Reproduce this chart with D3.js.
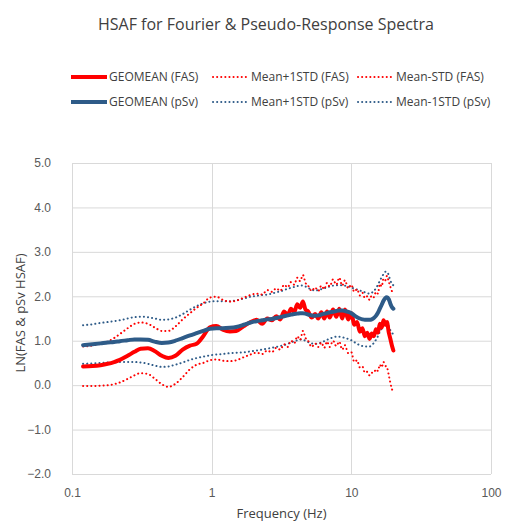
<!DOCTYPE html>
<html>
<head>
<meta charset="utf-8">
<script src="https://cdn.jsdelivr.net/npm/d3@7"></script>
<style>
  body { margin: 0; background: #fff; }
  svg { font-family: "Open Sans", "Liberation Sans", sans-serif; }
</style>
</head>
<body>
<div id="chart"></div>
<script>
// =========================
// DATA
// =========================
const freq = [0.12, 0.14, 0.16, 0.18, 0.2, 0.22, 0.25, 0.28, 0.31, 0.35, 0.39, 0.44, 0.49, 0.55, 0.62, 0.7, 0.78, 0.87, 0.97, 1.08,
  1.2, 1.35, 1.5, 1.7, 1.9, 2.1, 2.3, 2.5, 2.7, 2.9, 3.1, 3.3, 3.5, 3.7, 3.9, 4.1, 4.3, 4.5, 4.7, 4.9,
  5.2, 5.5, 5.8, 6.1, 6.4, 6.7, 7.0, 7.4, 7.8, 8.2, 8.6, 9.0, 9.5, 10.0, 10.5, 11.0, 11.5, 12.0, 12.5, 13.0,
  13.5, 14.0, 14.5, 15.0, 15.5, 16.0, 16.5, 17.0, 17.5, 18.0, 18.5, 19.0, 19.5, 20.0];

const fasMean = [0.42, 0.43, 0.45, 0.48, 0.52, 0.57, 0.66, 0.75, 0.82, 0.83, 0.77, 0.66, 0.61, 0.66, 0.80, 0.89, 0.93, 1.10, 1.30, 1.33,
  1.25, 1.21, 1.22, 1.33, 1.42, 1.47, 1.38, 1.50, 1.46, 1.55, 1.48, 1.66, 1.58, 1.72, 1.64, 1.82, 1.74, 1.88, 1.70, 1.66,
  1.52, 1.60, 1.50, 1.64, 1.50, 1.66, 1.52, 1.70, 1.54, 1.72, 1.50, 1.70, 1.48, 1.62, 1.36, 1.42, 1.20, 1.28, 1.10, 1.18,
  1.04, 1.16, 1.10, 1.26, 1.18, 1.38, 1.30, 1.46, 1.36, 1.42, 1.20, 1.05, 0.90, 0.78];

const fasPlus = [0.87, 0.89, 0.93, 0.98, 1.06, 1.15, 1.28, 1.38, 1.41, 1.38, 1.30, 1.22, 1.22, 1.32, 1.48, 1.62, 1.74, 1.84, 1.97, 1.99,
  1.92, 1.88, 1.90, 1.97, 2.03, 2.06, 2.04, 2.14, 2.10, 2.18, 2.12, 2.26, 2.20, 2.32, 2.26, 2.42, 2.34, 2.48, 2.30, 2.24,
  2.12, 2.20, 2.12, 2.24, 2.16, 2.30, 2.22, 2.38, 2.26, 2.42, 2.24, 2.36, 2.18, 2.26, 2.10, 2.16, 2.02, 2.08, 1.96, 2.00,
  1.92, 2.02, 1.98, 2.10, 2.06, 2.28, 2.22, 2.40, 2.36, 2.46, 2.34, 2.22, 2.12, 2.05];

const fasMinus = [-0.02, -0.02, -0.01, 0.0, 0.02, 0.06, 0.14, 0.22, 0.27, 0.25, 0.15, 0.02, -0.04, 0.03, 0.18, 0.36, 0.46, 0.50, 0.56, 0.58,
  0.55, 0.54, 0.56, 0.63, 0.69, 0.73, 0.70, 0.78, 0.74, 0.84, 0.80, 0.92, 0.86, 1.00, 0.94, 1.10, 1.02, 1.22, 1.06, 1.00,
  0.86, 0.94, 0.86, 0.96, 0.84, 0.98, 0.86, 1.00, 0.88, 0.98, 0.80, 0.90, 0.72, 0.74, 0.52, 0.56, 0.40, 0.42, 0.28, 0.30,
  0.22, 0.28, 0.28, 0.36, 0.32, 0.46, 0.40, 0.52, 0.44, 0.40, 0.24, 0.06, -0.08, -0.18];

const psvMean = [0.90, 0.92, 0.94, 0.96, 0.97, 0.99, 1.01, 1.03, 1.03, 1.02, 0.98, 0.95, 0.96, 1.00, 1.06, 1.12, 1.17, 1.22, 1.27, 1.28,
  1.28, 1.29, 1.31, 1.36, 1.41, 1.44, 1.46, 1.48, 1.49, 1.51, 1.53, 1.55, 1.57, 1.59, 1.60, 1.61, 1.62, 1.62, 1.61, 1.59,
  1.57, 1.56, 1.57, 1.59, 1.61, 1.62, 1.64, 1.65, 1.67, 1.68, 1.68, 1.67, 1.65, 1.62, 1.57, 1.53, 1.50, 1.48, 1.47, 1.47,
  1.47, 1.48, 1.51, 1.56, 1.63, 1.72, 1.81, 1.90, 1.96, 1.98, 1.94, 1.84, 1.76, 1.72];

const psvPlus = [1.35, 1.37, 1.40, 1.42, 1.44, 1.46, 1.50, 1.53, 1.54, 1.53, 1.50, 1.47, 1.48, 1.52, 1.60, 1.70, 1.78, 1.84, 1.88, 1.89,
  1.89, 1.89, 1.91, 1.95, 1.99, 2.01, 2.03, 2.04, 2.06, 2.09, 2.11, 2.14, 2.17, 2.19, 2.21, 2.23, 2.24, 2.24, 2.22, 2.19,
  2.15, 2.13, 2.14, 2.16, 2.18, 2.20, 2.22, 2.24, 2.25, 2.25, 2.25, 2.24, 2.22, 2.20, 2.17, 2.15, 2.13, 2.11, 2.09, 2.07,
  2.06, 2.08, 2.12, 2.18, 2.26, 2.35, 2.43, 2.50, 2.55, 2.55, 2.48, 2.36, 2.28, 2.25];

const psvMinus = [0.48, 0.49, 0.50, 0.51, 0.51, 0.52, 0.52, 0.52, 0.51, 0.48, 0.44, 0.41, 0.42, 0.46, 0.51, 0.57, 0.61, 0.64, 0.67, 0.69,
  0.70, 0.72, 0.73, 0.74, 0.76, 0.78, 0.80, 0.82, 0.84, 0.86, 0.88, 0.90, 0.93, 0.96, 0.99, 1.01, 1.03, 1.02, 1.00, 0.97,
  0.94, 0.93, 0.94, 0.96, 0.99, 1.02, 1.05, 1.07, 1.09, 1.09, 1.08, 1.06, 1.04, 1.01, 0.97, 0.93, 0.90, 0.88, 0.87, 0.87,
  0.87, 0.90, 0.95, 1.02, 1.10, 1.20, 1.28, 1.35, 1.39, 1.39, 1.33, 1.24, 1.18, 1.15];

const xTicks = [0.1, 1, 10, 100];
const yTicks = [-2, -1, 0, 1, 2, 3, 4, 5];

// =========================
// SETUP
// =========================
const width = 517, height = 524;
const plot = { left: 72, right: 491, top: 163, bottom: 474 };
const RED = "#ff0000", BLUE = "#2e5b88", TEXT = "#404040", GRID = "#d9d9d9";

const svg = d3.select("#chart").append("svg")
  .attr("width", width)
  .attr("height", height);

const x = d3.scaleLog().domain([0.1, 100]).range([plot.left, plot.right]);
const y = d3.scaleLinear().domain([-2, 5]).range([plot.bottom, plot.top]);

// =========================
// GRID + AXES
// =========================
svg.append("g")
  .selectAll("line")
  .data(yTicks)
  .join("line")
  .attr("x1", plot.left).attr("x2", plot.right)
  .attr("y1", d => y(d) + 0.5).attr("y2", d => y(d) + 0.5)
  .attr("stroke", GRID).attr("stroke-width", 1);

svg.append("g")
  .selectAll("line")
  .data(xTicks)
  .join("line")
  .attr("x1", d => Math.round(x(d)) + 0.5).attr("x2", d => Math.round(x(d)) + 0.5)
  .attr("y1", plot.top).attr("y2", plot.bottom)
  .attr("stroke", GRID).attr("stroke-width", 1);

const yAxis = svg.append("g")
  .attr("transform", `translate(${plot.left - 21}, 0)`)
  .call(d3.axisLeft(y).tickValues(yTicks).tickFormat(d3.format(".1f")).tickSize(0).tickPadding(0));
yAxis.select(".domain").remove();
yAxis.selectAll("text").attr("fill", "#595959").style("font-size", "12px");

const xAxis = svg.append("g")
  .attr("transform", `translate(0, ${plot.bottom})`)
  .call(d3.axisBottom(x).tickValues(xTicks).tickFormat(d3.format("~g")).tickSize(0).tickPadding(14));
xAxis.select(".domain").remove();
xAxis.selectAll("text").attr("fill", "#595959").style("font-size", "12px");

// =========================
// LINES
// =========================
const series = [
  { name: "Mean+1STD (pSv)", values: psvPlus, color: BLUE, dotted: true },
  { name: "Mean-1STD (pSv)", values: psvMinus, color: BLUE, dotted: true },
  { name: "Mean+1STD (FAS)", values: fasPlus, color: RED, dotted: true },
  { name: "Mean-STD (FAS)", values: fasMinus, color: RED, dotted: true },
  { name: "GEOMEAN (FAS)", values: fasMean, color: RED, dotted: false },
  { name: "GEOMEAN (pSv)", values: psvMean, color: BLUE, dotted: false }
];

const line = d3.line()
  .x((d, i) => x(freq[i]))
  .y(d => y(d))
  .curve(d3.curveMonotoneX);

series.forEach(s => {
  svg.append("path")
    .datum(s.values)
    .attr("d", line)
    .attr("fill", "none")
    .attr("stroke", s.color)
    .attr("stroke-width", s.dotted ? 2 : 4)
    .attr("stroke-linecap", "round")
    .attr("stroke-linejoin", "round")
    .attr("stroke-dasharray", s.dotted ? "0.1,4" : null);
});

// =========================
// LEGEND
// =========================
const legendItems = [
  { name: "GEOMEAN (FAS)", color: RED, dotted: false, col: 0, row: 0 },
  { name: "Mean+1STD (FAS)", color: RED, dotted: true, col: 1, row: 0 },
  { name: "Mean-STD (FAS)", color: RED, dotted: true, col: 2, row: 0 },
  { name: "GEOMEAN (pSv)", color: BLUE, dotted: false, col: 0, row: 1 },
  { name: "Mean+1STD (pSv)", color: BLUE, dotted: true, col: 1, row: 1 },
  { name: "Mean-1STD (pSv)", color: BLUE, dotted: true, col: 2, row: 1 }
];
const colX = [71, 213, 358];

legendItems.forEach(d => {
  const g = svg.append("g")
    .attr("transform", `translate(${colX[d.col]}, ${77 + d.row * 25})`);
  g.append("line")
    .attr("x1", 0).attr("x2", 36)
    .attr("stroke", d.color)
    .attr("stroke-width", d.dotted ? 2 : 4)
    .attr("stroke-linecap", d.dotted ? "round" : "butt")
    .attr("stroke-dasharray", d.dotted ? "0.1,4" : null);
  g.append("text")
    .attr("x", 38)
    .attr("y", 4)
    .attr("fill", TEXT)
    .style("font-size", "12px")
    .text(d.name);
});

// =========================
// LABELS + TITLE
// =========================
svg.append("text")
  .attr("x", 266)
  .attr("y", 30)
  .attr("text-anchor", "middle")
  .attr("fill", TEXT)
  .style("font-size", "16px")
  .text("HSAF for Fourier & Pseudo-Response  Spectra");

svg.append("text")
  .attr("x", (plot.left + plot.right) / 2)
  .attr("y", 518)
  .attr("text-anchor", "middle")
  .attr("fill", TEXT)
  .style("font-size", "13px")
  .text("Frequency (Hz)");

svg.append("text")
  .attr("transform", "rotate(-90)")
  .attr("x", -313)
  .attr("y", 25)
  .attr("text-anchor", "middle")
  .attr("fill", TEXT)
  .style("font-size", "13px")
  .text("LN(FAS & pSv HSAF)");
</script>
</body>
</html>
